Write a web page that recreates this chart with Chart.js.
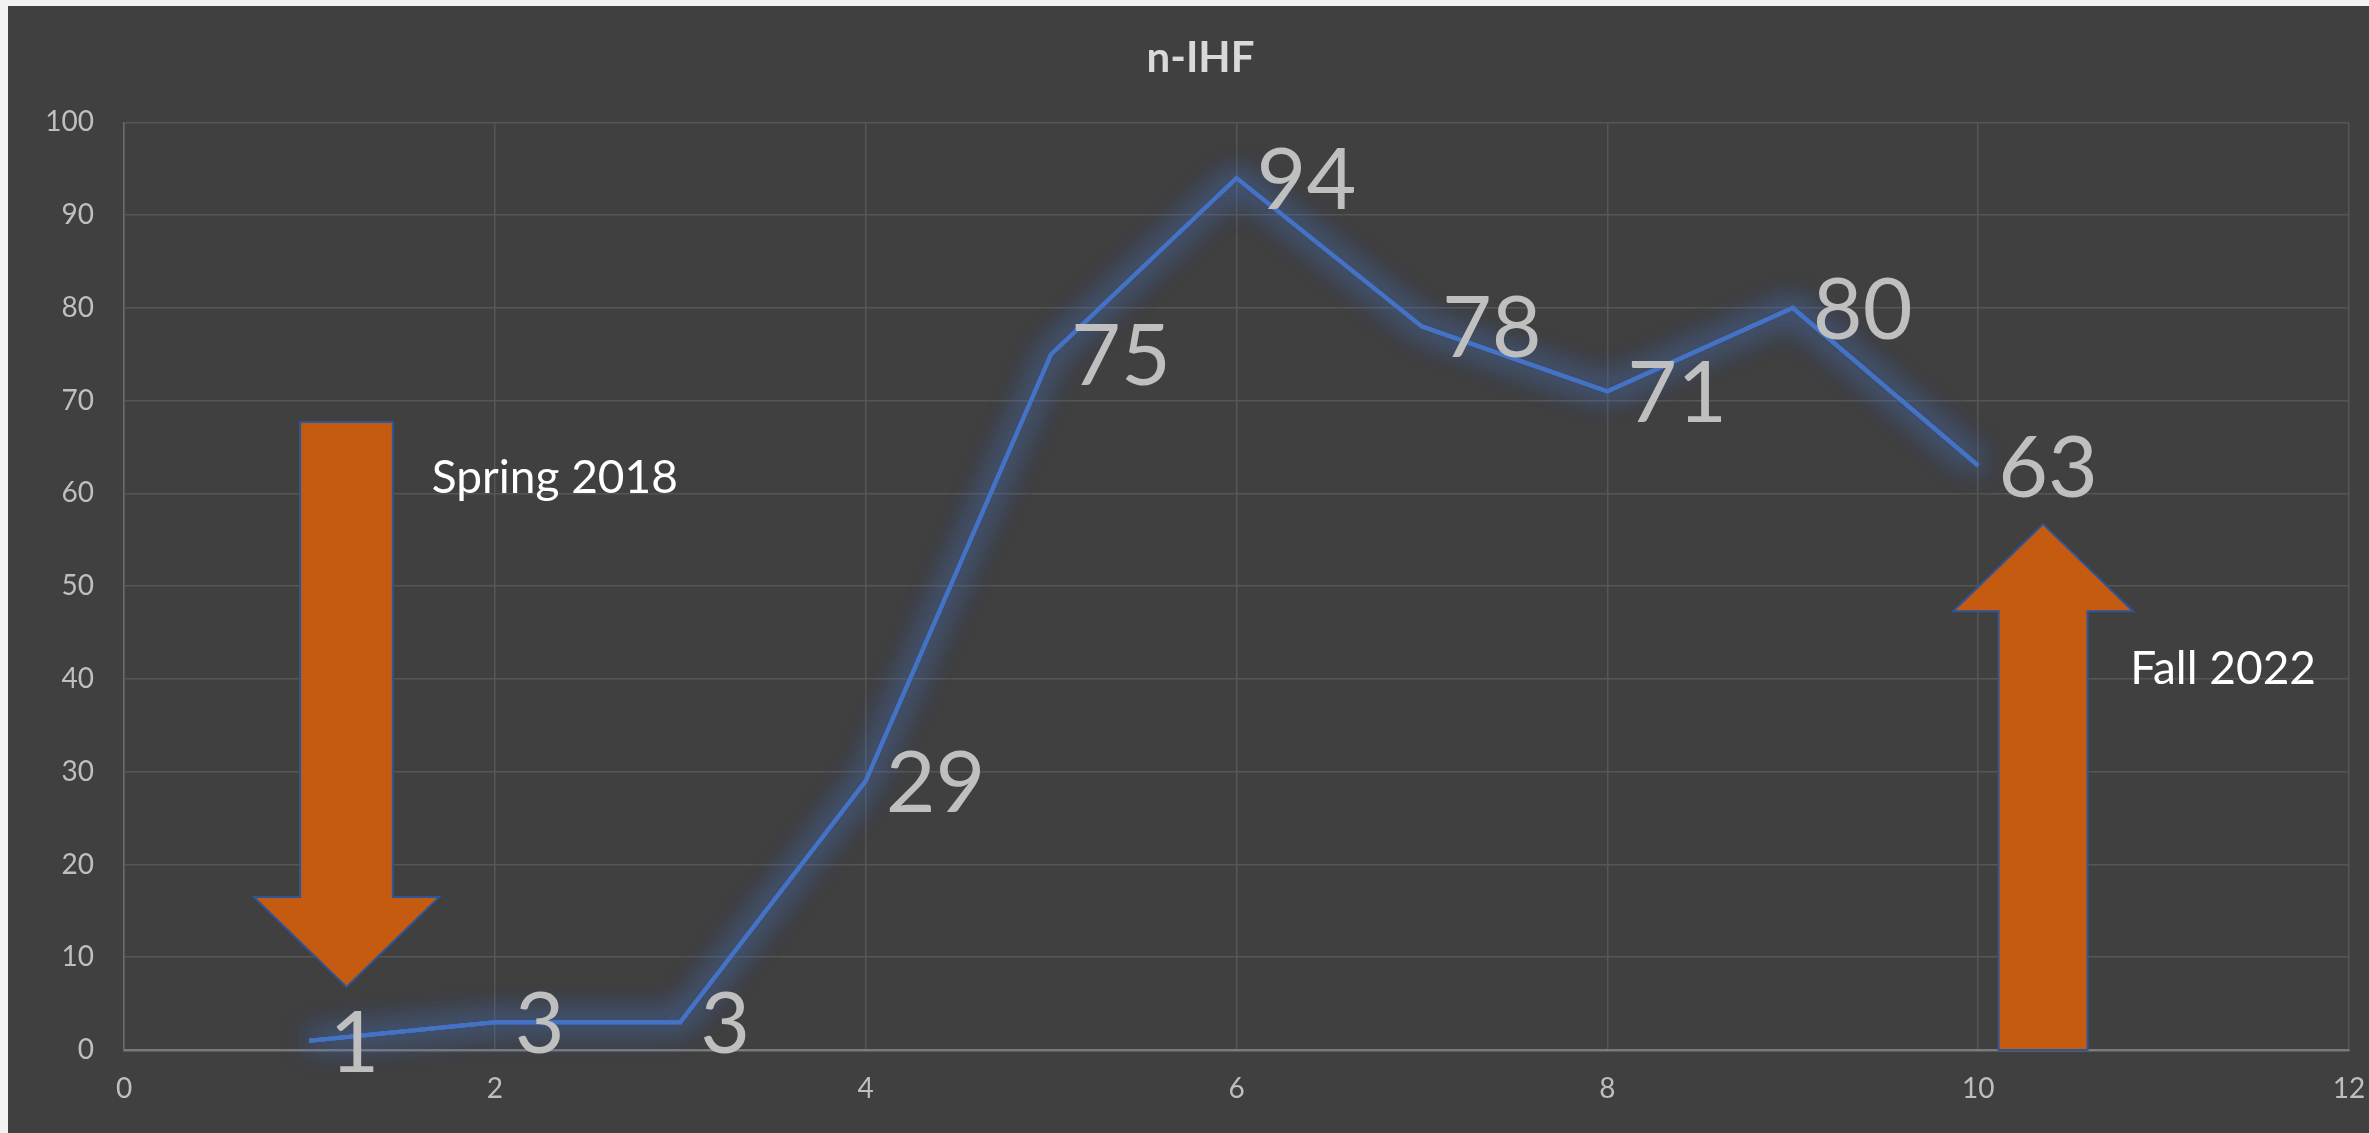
<!DOCTYPE html>
<html>
<head>
<meta charset="utf-8">
<title>n-IHF</title>
<script src="https://cdn.jsdelivr.net/npm/chart.js@4/dist/chart.umd.min.js"></script>
<style>
  html, body { margin: 0; padding: 0; background: #f2f2f2; overflow: hidden; }
  #wrap { position: absolute; left: 8px; top: 6px; width: 2361px; height: 1127px; background: #404040; }
  #nihfChart { display: block; }
</style>
</head>
<body>
<div id="wrap"><canvas id="nihfChart" width="2361" height="1127"></canvas></div>
<script>
// Chart data
const xValues = [1, 2, 3, 4, 5, 6, 7, 8, 9, 10];
const nihfValues = [1, 3, 3, 29, 75, 94, 78, 71, 80, 63];
const xTickRange = [0, 12, 2];   // min, max, step
const yTickRange = [0, 100, 10];

// Annotation arrows and notes, in axis units
const arrows = [
  { x: 1.2, tail: 67.7, headBase: 16.5, tip: 6.8, shaftHalf: 0.25, headHalf: 0.5 },
  { x: 10.35, tail: 0, headBase: 47.3, tip: 56.7, shaftHalf: 0.24, headHalf: 0.485 },
];
const notes = [
  { text: "Spring 2018", x: 1.66, y: 60.1 },
  { text: "Fall 2022", x: 10.82, y: 39.5 },
];

const FONT = "Lato, 'Open Sans', sans-serif";

// soft blue glow behind the line: draw the line a few times with a blurred shadow first
const glowPlugin = {
  id: "glow",
  beforeDatasetDraw(chart, args) {
    const ctx = chart.ctx;
    const line = args.meta.dataset;
    ctx.save();
    ctx.shadowColor = "rgba(70, 114, 200, 1)";
    ctx.shadowBlur = 30;
    for (let i = 0; i < 3; i++) line.draw(ctx, chart.chartArea);
    ctx.restore();
  },
};

const annotationPlugin = {
  id: "notes",
  afterDatasetsDraw(chart) {
    const ctx = chart.ctx;
    const xs = chart.scales.x;
    const ys = chart.scales.y;

    // arrows
    arrows.forEach((a) => {
      const cx = xs.getPixelForValue(a.x);
      const sw = xs.getPixelForValue(a.x + a.shaftHalf) - cx;
      const hw = xs.getPixelForValue(a.x + a.headHalf) - cx;
      const yTail = ys.getPixelForValue(a.tail);
      const yBase = ys.getPixelForValue(a.headBase);
      const yTip = ys.getPixelForValue(a.tip);
      ctx.save();
      ctx.beginPath();
      ctx.moveTo(cx - sw, yTail);
      ctx.lineTo(cx + sw, yTail);
      ctx.lineTo(cx + sw, yBase);
      ctx.lineTo(cx + hw, yBase);
      ctx.lineTo(cx, yTip);
      ctx.lineTo(cx - hw, yBase);
      ctx.lineTo(cx - sw, yBase);
      ctx.closePath();
      ctx.fillStyle = "#c55a11";
      ctx.fill();
      ctx.lineWidth = 2;
      ctx.strokeStyle = "#2f5597";
      ctx.stroke();
      ctx.restore();
    });

    // text notes
    ctx.save();
    ctx.fillStyle = "#ffffff";
    ctx.font = "46px " + FONT;
    ctx.textAlign = "left";
    ctx.textBaseline = "alphabetic";
    notes.forEach((n) => {
      ctx.fillText(n.text, xs.getPixelForValue(n.x), ys.getPixelForValue(n.y));
    });
    ctx.restore();

    // data labels, right of each point
    const meta = chart.getDatasetMeta(0);
    ctx.save();
    ctx.fillStyle = "#bfbfbf";
    ctx.font = "86px " + FONT;
    ctx.textAlign = "left";
    ctx.textBaseline = "alphabetic";
    meta.data.forEach((pt, i) => {
      ctx.fillText(String(nihfValues[i]), pt.x + 20, pt.y + 31);
    });
    ctx.restore();
  },
};

const ctx = document.getElementById("nihfChart").getContext("2d");

const chart = new Chart(ctx, {
  type: "line",
  data: {
    datasets: [
      {
        label: "n-IHF",
        data: xValues.map((x, i) => ({ x: x, y: nihfValues[i] })),
        borderColor: "#4472c4",
        borderWidth: 4,
        pointRadius: 0,
        tension: 0,
        fill: false,
      },
    ],
  },
  options: {
    responsive: false,
    devicePixelRatio: 1,
    animation: false,
    layout: { padding: { left: 24, right: 0, top: 0, bottom: 0 } },
    plugins: {
      legend: { display: false },
      tooltip: { enabled: false },
      title: {
        display: true,
        text: "n-IHF",
        color: "#d9d9d9",
        font: { family: FONT, size: 42, weight: "bold" },
        padding: { top: 27, bottom: 39 },
      },
    },
    scales: {
      x: {
        type: "linear",
        min: xTickRange[0],
        max: xTickRange[1],
        ticks: {
          stepSize: xTickRange[2],
          color: "#bfbfbf",
          font: { family: FONT, size: 28 },
          padding: 22,
        },
        grid: { color: "#565656", lineWidth: 1.5, drawTicks: false },
        border: { color: "#7a7a7a", width: 2.5 },
        afterFit: (scale) => {
          scale.height = 83;
          scale.paddingLeft = 0;
          scale.paddingRight = 20;
        },
      },
      y: {
        min: yTickRange[0],
        max: yTickRange[1],
        ticks: {
          stepSize: yTickRange[2],
          color: "#bfbfbf",
          font: { family: FONT, size: 28 },
          padding: 30,
        },
        grid: { color: "#565656", lineWidth: 1.5, drawTicks: false },
        border: { color: "#6a6a6a", width: 1.5 },
        afterFit: (scale) => { scale.width = 92; },
      },
    },
  },
  plugins: [glowPlugin, annotationPlugin],
});
</script>
</body>
</html>
